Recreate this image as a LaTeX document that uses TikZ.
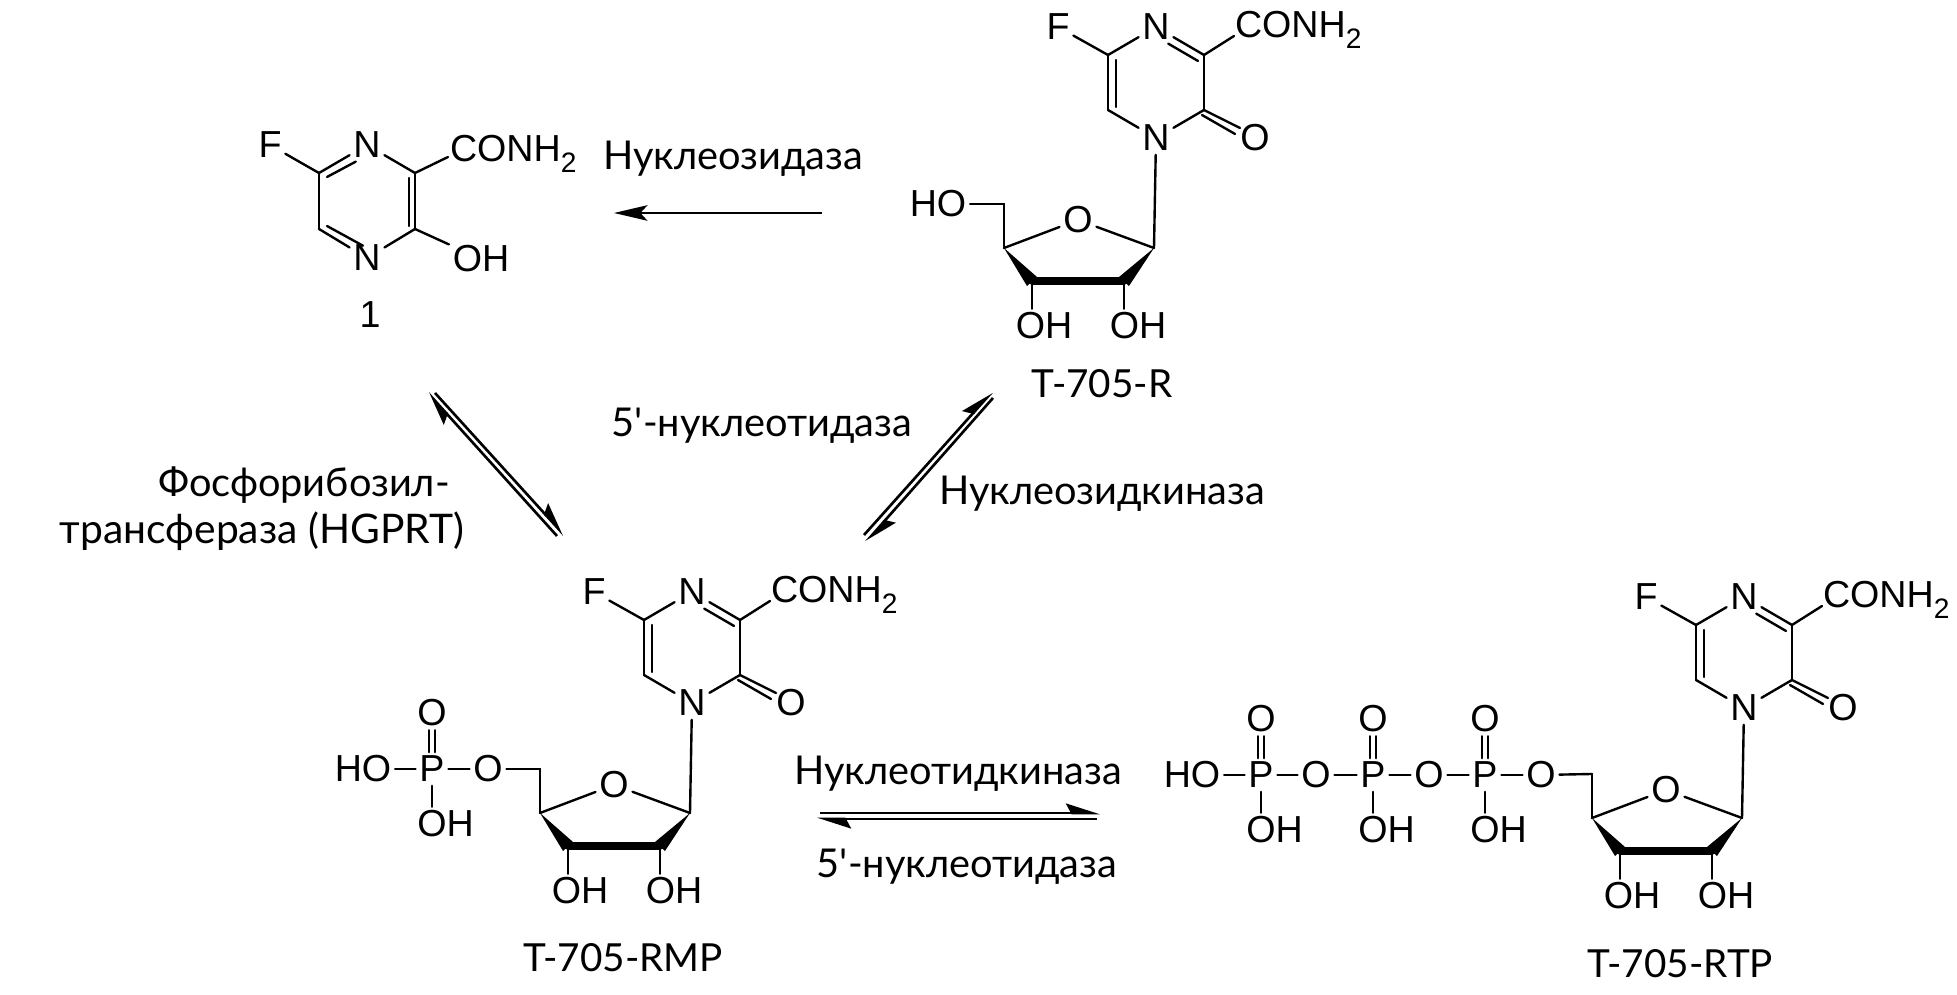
\documentclass[tikz,border=0pt]{standalone}
\usepackage{fontspec}
\setmainfont{Liberation Sans}
\newfontfamily\labfont{Lato}
\usetikzlibrary{arrows.meta,calc}
\newcommand{\subtwo}{\raisebox{-0.28em}{\fontsize{8}{8}\selectfont 2}}
\tikzset{
  atom/.style={inner sep=1.1pt,outer sep=0pt,font=\fontsize{10.7}{12}\selectfont},
  subst/.style={inner sep=0pt,outer sep=0pt,anchor=base west,font=\fontsize{10.7}{12}\selectfont},
  bond/.style={line width=0.68pt,line cap=round,line join=round,black},
  thickbond/.style={line width=2pt,line cap=round,black},
  wedge/.style={fill=black,draw=none},
  lab/.style={inner sep=0pt,outer sep=0pt,anchor=base,font=\labfont\fontsize{11.3}{12}\selectfont},
  tname/.style={inner sep=0pt,outer sep=0pt,anchor=base,font=\labfont\fontsize{11}{12}\selectfont},
  react/.style={line width=0.75pt,black,-{Stealth[harpoon,length=8.5pt,width=5.4pt,inset=1.4pt]}},
  oneway/.style={line width=0.68pt,black,-{Stealth[length=9.5pt,width=4.4pt,inset=2pt]}}
}
% pyrazinone + ribose; origin at the upper ring N
\newcommand{\riboside}[3]{%
\begin{scope}[shift={(#2,#3)}]
  \node[atom] (#1F) at (-98,0) {F};
  \node[atom] (#1Na) at (0,0) {N};
  \node[atom] (#1Nb) at (0,111) {N};
  \node[atom] (#1Ok) at (99,111) {O};
  \node[subst] (#1am) at (79,11) {CONH\subtwo};
  \coordinate (#1c1) at (-48,28);
  \coordinate (#1c2) at (48,28);
  \coordinate (#1c3) at (48,83);
  \coordinate (#1c4) at (-48,83);
  \draw[bond] (#1F) -- (#1c1);
  \draw[bond] (#1Na) -- (#1c1);
  \draw[bond] (#1Na) -- (#1c2);
  \draw[bond] ([shift={(-6,6)}]#1c2) -- ([shift={(-6,6)}]$(#1c2)!0.62!(#1Na)$);
  \draw[bond] (#1c2) -- (#1c3);
  \draw[bond] (#1c3) -- (#1Nb);
  \draw[bond] (#1Nb) -- (#1c4);
  \draw[bond] (#1c4) -- (#1c1);
  \draw[bond] ([shift={(8,-3)}]#1c4) -- ([shift={(8,5)}]#1c1);
  \draw[bond] (#1c2) -- ([shift={(-1,-2)}]#1am.base west);
  \draw[bond] (#1c3) -- ([shift={(36,18)}]#1c3);
  \draw[bond] ([shift={(-2,5)}]#1c3) -- ([shift={(31,24)}]#1c3);
  % ribose
  \node[atom] (#1Or) at (-78,193) {O};
  \node[atom] (#1oha) at (-112,299) {OH};
  \node[atom] (#1ohb) at (-18,299) {OH};
  \coordinate (#1r1) at (-2,221);
  \coordinate (#1r2) at (-32,254);
  \coordinate (#1r3) at (-124,254);
  \coordinate (#1r4) at (-152,221);
  \coordinate (#1r5) at (-152,177);
  \draw[bond] (#1Nb) -- (#1r1);
  \draw[bond] (#1r4) -- (#1Or);
  \draw[bond] (#1Or) -- (#1r1);
  \draw[bond] (#1r5) -- (#1r4);
  \fill[wedge] (#1r4) -- ([shift={(-5,5)}]#1r3) -- ([shift={(5,-4)}]#1r3) -- cycle;
  \fill[wedge] (#1r1) -- ([shift={(-5,-4)}]#1r2) -- ([shift={(5,5)}]#1r2) -- cycle;
  \draw[thickbond] (#1r3) -- (#1r2);
  \draw[bond] (#1r3) -- (#1r3 |- #1oha.north);
  \draw[bond] (#1r2) -- (#1r2 |- #1ohb.north);
\end{scope}}
% phosphate unit with its =O and -OH
\newcommand{\phosphate}[3]{%
  \node[atom] (#1P) at (#2,#3) {P};
  \node[atom] (#1O) at (#2,#3-56) {O};
  \node[atom] (#1H) at (#2+13.5,#3+55) {OH};
  \draw[bond] ([xshift=-0.85pt]#1P.north) -- ([xshift=-0.85pt]#1O.south);
  \draw[bond] ([xshift=0.85pt]#1P.north) -- ([xshift=0.85pt]#1O.south);
  \draw[bond] (#1P.south) -- (#1P.south |- #1H.north);}
\begin{document}
\begin{tikzpicture}[x=0.01cm,y=-0.01cm]
\useasboundingbox (0,0) rectangle (1957,995);

% compound 1
\node[atom] (mF) at (270,145) {F};
\node[atom] (mNa) at (367,145) {N};
\node[atom] (mNb) at (367,258) {N};
\node[atom] (mOH) at (481,259) {OH};
\node[subst] (mAm) at (450,162) {CONH\subtwo};
\coordinate (mc1) at (319,173);
\coordinate (mc2) at (415,173);
\coordinate (mc3) at (415,229);
\coordinate (mc4) at (319,229);
\draw[bond] (mF) -- (mc1);
\draw[bond] (mNa) -- (mc1);
\draw[bond] ([shift={(8,4)}]mc1) -- ([shift={(7,6)}]$(mc1)!0.62!(mNa)$);
\draw[bond] (mNa) -- (mc2);
\draw[bond] (mc2) -- ([shift={(-2,-5)}]mAm.base west);
\draw[bond] (mc2) -- (mc3);
\draw[bond] ([shift={(-6,5)}]mc2) -- ([shift={(-6,-3)}]mc3);
\draw[bond] (mc3) -- (mOH);
\draw[bond] (mc3) -- (mNb);
\draw[bond] (mNb) -- (mc4);
\draw[bond] ([shift={(8,-3)}]mc4) -- ([shift={(8,-5)}]$(mc4)!0.75!(mNb)$);
\draw[bond] (mc4) -- (mc1);
\node[tname,font=\fontsize{10.7}{12}\selectfont] (one) at (370,328) {1};

% T-705-R
\riboside{r}{1156}{27}
\node[atom] (rHO) at (938,204) {HO};
\draw[bond] (rHO) -- (rr5);
\node[tname] (rname) at (1102,398) {T-705-R};

% T-705-RMP
\riboside{m}{692}{592}
\node[atom] (mO) at (488,769) {O};
\draw[bond] (mO) -- (mr5);
\phosphate{ma}{432}{769}
\node[atom] (mHO) at (363,769) {HO};
\draw[bond] (mHO) -- (maP);
\draw[bond] (maP) -- (mO);
\node[tname] (mname) at (623,972) {T-705-RMP};

% T-705-RTP
\riboside{t}{1744}{597}
\node[atom] (tOc) at (1541,775) {O};
\draw[bond] (tOc) -- (tr5);
\phosphate{tc}{1485}{775}
\node[atom] (tOb) at (1429,775) {O};
\phosphate{tb}{1373}{775}
\node[atom] (tOa) at (1316,775) {O};
\phosphate{ta}{1261}{775}
\node[atom] (tHO) at (1192,775) {HO};
\draw[bond] (tHO) -- (taP);
\draw[bond] (taP) -- (tOa);
\draw[bond] (tOa) -- (tbP);
\draw[bond] (tbP) -- (tOb);
\draw[bond] (tOb) -- (tcP);
\draw[bond] (tcP) -- (tOc);
\node[tname] (tname) at (1680,978) {T-705-RTP};

% enzyme labels
\node[lab] (e1) at (733,170) {Нуклеозидаза};
\node[lab] (e2) at (762,437) {5'-нуклеотидаза};
\node[lab] (e3) at (1102,505) {Нуклеозидкиназа};
\node[lab] (e4) at (304,497) {Фосфорибозил-};
\node[lab,font=\labfont\fontsize{11.6}{12}\selectfont] (e5) at (262,544) {трансфераза (HGPRT)};
\node[lab] (e6) at (958,785) {Нуклеотидкиназа};
\node[lab] (e7) at (967,878) {5'-нуклеотидаза};

% reaction arrows
\coordinate (h1) at (822,213);
\coordinate (h2) at (614,213);
\draw[oneway] (h1) -- (h2);

\coordinate (l1a) at (557,536);
\coordinate (l1b) at (428,393);
\coordinate (l2a) at (435,393);
\coordinate (l2b) at (564,535);
\draw[react] (l1a) -- (l1b);
\draw[react] (l2a) -- (l2b);

\coordinate (d1a) at (864,535);
\coordinate (d1b) at (992,392);
\coordinate (d2a) at (993,398);
\coordinate (d2b) at (866,542);
\draw[react] (d1a) -- (d1b);
\draw[react] (d2a) -- (d2b);

\coordinate (b1a) at (820,813);
\coordinate (b1b) at (1100,813);
\coordinate (b2a) at (1097,819);
\coordinate (b2b) at (817,819);
\draw[react] (b1a) -- (b1b);
\draw[react] (b2a) -- (b2b);
\end{tikzpicture}
\end{document}
